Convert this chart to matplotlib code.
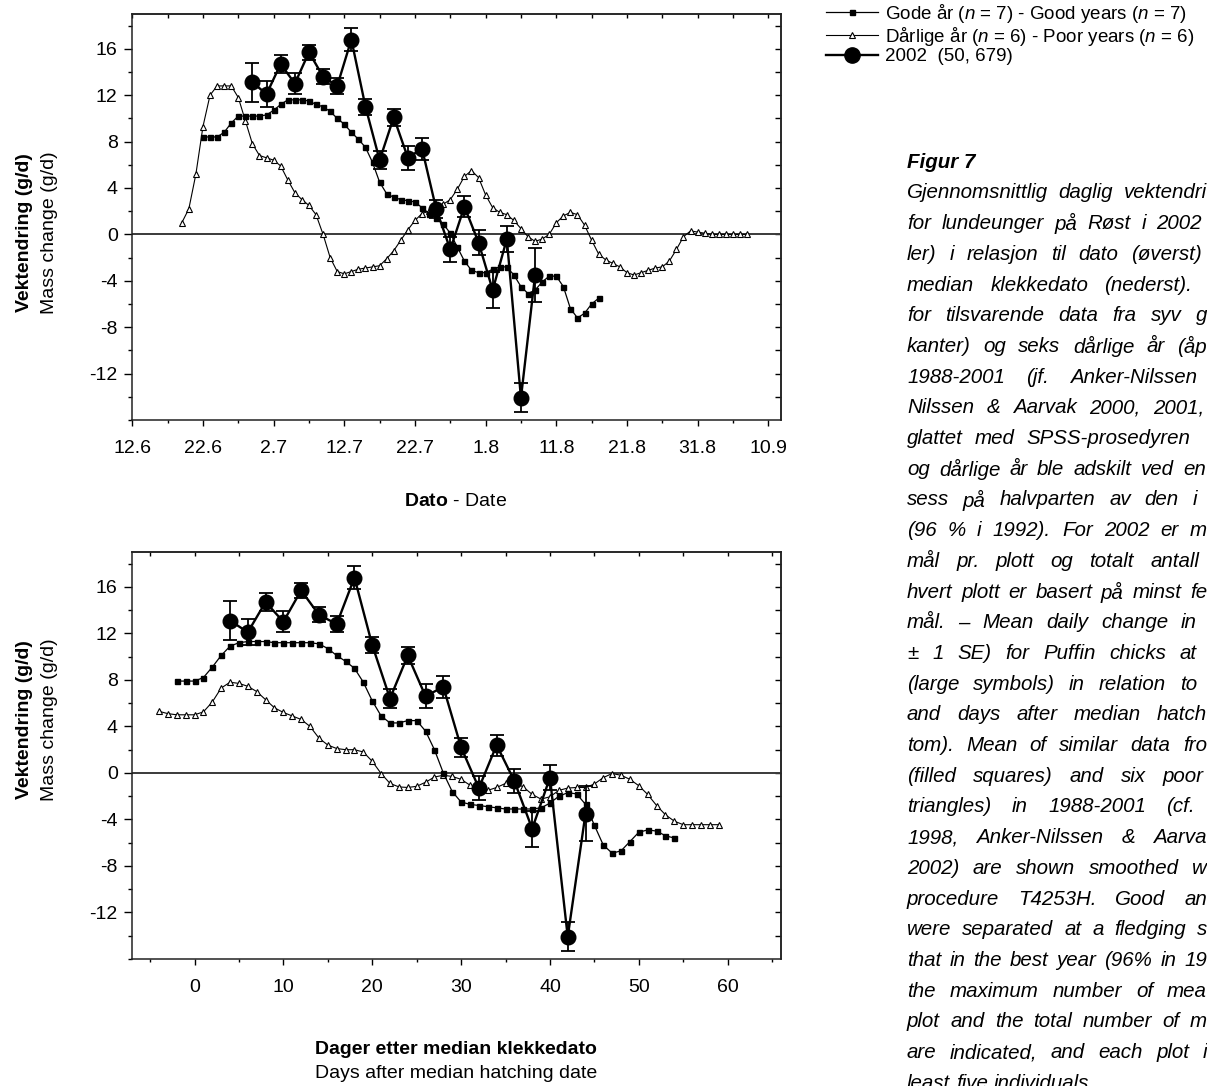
import numpy as np
import matplotlib.pyplot as plt
import matplotlib.font_manager as fm
from matplotlib.lines import Line2D
from matplotlib.ticker import MultipleLocator, FixedLocator, NullFormatter

# ---- data -------------------------------------------------------------
# top panel: x = days after 12 June
date_tick_labels = ['12.6', '22.6', '2.7', '12.7', '22.7', '1.8', '11.8', '21.8', '31.8', '10.9']

good_date_first_day = 10
good_date = [8.4, 8.4, 8.4, 8.8, 9.6, 10.2, 10.2, 10.2, 10.2, 10.3, 10.7, 11.2, 11.6, 11.6, 11.6,
             11.5, 11.2, 11.0, 10.6, 10.0, 9.5, 8.8, 8.2, 7.5, 6.2, 4.5, 3.5, 3.2, 3.0, 2.9, 2.8,
             2.3, 1.8, 1.4, 0.9, 0.1, -1.1, -2.3, -3.1, -3.3, -3.3, -3.0, -2.8, -2.8, -3.5, -4.5,
             -5.1, -4.8, -4.1, -3.6, -3.6, -4.5, -6.4, -7.2, -6.8, -6.0, -5.5]

poor_date_first_day = 7
poor_date = [1.0, 2.2, 5.2, 9.3, 12.0, 12.8, 12.8, 12.8, 11.8, 9.8,
             7.8, 6.8, 6.6, 6.4, 5.9, 4.7, 3.6, 3.0, 2.5, 1.7,
             0.0, -2.0, -3.2, -3.4, -3.2, -3.0, -2.9, -2.8, -2.7, -2.1,
             -1.4, -0.5, 0.4, 1.2, 1.8, 2.0, 2.2, 2.6, 3.0, 3.9,
             5.0, 5.5, 4.9, 3.4, 2.3, 1.9, 1.7, 1.2, 0.5, -0.2,
             -0.6, -0.4, 0.0, 1.0, 1.6, 1.9, 1.7, 0.8, -0.5, -1.7,
             -2.2, -2.5, -2.8, -3.3, -3.5, -3.3, -3.1, -2.9, -2.8, -2.3,
             -1.3, -0.2, 0.3, 0.2, 0.1, 0.0, 0.0, 0.0, 0.0, 0.0,
             0.0]

# bottom panel: x = days after median hatching date
good_hatch_first_day = -2
good_hatch = [7.9, 7.9, 7.9, 8.2, 9.1, 10.1, 10.9, 11.2, 11.3, 11.3, 11.3, 11.2, 11.2, 11.2, 11.2,
              11.2, 11.1, 10.7, 10.1, 9.6, 9.0, 7.8, 6.2, 4.9, 4.3, 4.3, 4.5, 4.5, 3.6, 2.0, 0.0,
              -1.6, -2.5, -2.7, -2.8, -2.9, -3.0, -3.1, -3.1, -3.1, -3.1, -3.0, -2.6, -2.0, -1.7,
              -1.8, -2.7, -4.5, -6.2, -6.9, -6.7, -5.9, -5.1, -4.9, -5.0, -5.4, -5.6]

poor_hatch_first_day = -4
poor_hatch = [5.3, 5.1, 5.0, 5.0, 5.0, 5.25, 6.1, 7.3, 7.8, 7.7, 7.45, 7.0, 6.3, 5.6, 5.2, 4.9,
              4.6, 4.0, 3.0, 2.4, 2.1, 2.0, 2.0, 1.8, 1.0, -0.05, -0.9, -1.2, -1.25, -1.15, -0.8,
              -0.35, -0.2, -0.3, -0.55, -1.05, -1.5, -1.5, -1.25, -0.9, -0.85, -1.2, -1.85, -2.25,
              -2.05, -1.5, -1.3, -1.25, -1.25, -0.95, -0.4, -0.05, -0.2, -0.55, -1.1, -1.85, -2.8,
              -3.6, -4.15, -4.45, -4.45, -4.45, -4.45, -4.45]

# 2002 (every second day)
day_2002_date = [17, 19, 21, 23, 25, 27, 29, 31, 33, 35, 37, 39, 41, 43, 45, 47, 49, 51, 53, 55, 57]
day_2002_hatch = [4, 6, 8, 10, 12, 14, 16, 18, 20, 22, 24, 26, 28, 30, 32, 34, 36, 38, 40, 42, 44]
mass_2002 = [13.1, 12.1, 14.7, 13.0, 15.7, 13.6, 12.8, 16.8, 11.0, 6.4, 10.1, 6.6, 7.4, 2.2,
             -1.3, 2.4, -0.7, -4.8, -0.4, -14.1, -3.5]
se_2002 = [1.7, 1.1, 0.8, 0.9, 0.65, 0.65, 0.7, 1.0, 0.7, 0.8, 0.75, 1.05, 0.95, 0.8,
           1.05, 0.9, 1.05, 1.55, 1.1, 1.25, 2.35]

legend_labels = ['Gode år ($n$ = 7) - Good years ($n$ = 7)',
                 'Dårlige år ($n$ = 6) - Poor years ($n$ = 6)',
                 '2002  (50, 679)']

# caption, as far as it is visible before the page edge
caption_title = 'Figur 7'
caption_lines = [
    'Gjennomsnittlig daglig vektendri',
    'for lundeunger på Røst i 2002',
    'ler) i relasjon til dato (øverst)',
    'median klekkedato (nederst).',
    'for tilsvarende data fra syv g',
    'kanter) og seks dårlige år (åp',
    '1988-2001 (jf. Anker-Nilssen',
    'Nilssen & Aarvak 2000, 2001,',
    'glattet med SPSS-prosedyren',
    'og dårlige år ble adskilt ved en',
    'sess på halvparten av den i',
    '(96 % i 1992). For 2002 er m',
    'mål pr. plott og totalt antall',
    'hvert plott er basert på minst fe',
    'mål. – Mean daily change in',
    '± 1 SE) for Puffin chicks at',
    '(large symbols) in relation to',
    'and days after median hatch',
    'tom). Mean of similar data fro',
    '(filled squares) and six poor',
    'triangles) in 1988-2001 (cf.',
    '1998, Anker-Nilssen & Aarva',
    '2002) are shown smoothed w',
    'procedure T4253H. Good an',
    'were separated at a fledging s',
    'that in the best year (96% in 19',
    'the maximum number of mea',
    'plot and the total number of m',
    'are indicated, and each plot i',
    'least five individuals.',
]
# where each justified line's visible text stops (pixels); None = not justified
caption_right_px = [1207, 1202, 1202, 1192, 1207, 1207, 1197, 1204, 1190, 1206, 1197, 1207,
                    1199, 1207, 1197, 1197, 1197, 1207, 1207, 1204, 1195, 1207, 1207, 1207,
                    1207, 1207, 1207, 1207, 1207, None]

# ---- fonts ------------------------------------------------------------
plt.rcParams['font.family'] = ['Liberation Sans', 'DejaVu Sans']
plt.rcParams['axes.unicode_minus'] = False
plt.rcParams['mathtext.fontset'] = 'custom'
plt.rcParams['mathtext.rm'] = 'Liberation Sans'
plt.rcParams['mathtext.it'] = 'Liberation Sans:italic'
plt.rcParams['mathtext.bf'] = 'Liberation Sans:bold'

font_names = {f.name for f in fm.fontManager.ttflist}
if 'Liberation Sans Narrow' in font_names:
    caption_family = ['Liberation Sans Narrow', 'Liberation Sans']
    caption_size = 18
else:
    caption_family = ['Liberation Sans', 'DejaVu Sans']
    caption_size = 14.8

W, H = 1207, 1086
fig = plt.figure(figsize=(W / 100, H / 100), dpi=100)


def px_axes(left, top, right, bottom):
    return fig.add_axes([left / W, 1 - bottom / H, (right - left) / W, (bottom - top) / H])


def style_axes(ax, xlim, top_ticks):
    ax.set_xlim(*xlim)
    ax.set_ylim(-16, 19)
    ax.axhline(0, color='#3a3a3a', lw=1.4, zorder=1)
    ax.xaxis.set_major_locator(MultipleLocator(10))
    ax.xaxis.set_minor_locator(MultipleLocator(5))
    ax.yaxis.set_major_locator(FixedLocator([-12, -8, -4, 0, 4, 8, 12, 16]))
    ax.yaxis.set_minor_locator(MultipleLocator(2))
    ax.tick_params(axis='x', which='major', direction='out', length=4.5, width=1, pad=10, labelsize=14)
    ax.tick_params(axis='x', which='minor', direction='out', length=2.5, width=1)
    ax.tick_params(axis='y', which='major', direction='out', length=5.5, width=1, pad=5, labelsize=14)
    ax.tick_params(axis='y', which='minor', direction='out', length=3, width=1)
    for s in ax.spines.values():
        s.set_linewidth(1.1)
        s.set_color('#222222')
    sx = ax.secondary_xaxis('top')
    sx.xaxis.set_major_locator(FixedLocator(top_ticks))
    sx.xaxis.set_major_formatter(NullFormatter())
    sx.tick_params(direction='in', length=3, width=1)
    sy = ax.secondary_yaxis('right')
    sy.yaxis.set_major_locator(FixedLocator(np.arange(-14, 19, 2)))
    sy.yaxis.set_major_formatter(NullFormatter())
    sy.tick_params(direction='in', length=4.5, width=1)
    for s in list(sx.spines.values()) + list(sy.spines.values()):
        s.set_linewidth(1.1)
        s.set_color('#222222')


def draw_series(ax, good, good_first, poor, poor_first, days_2002):
    xg = np.arange(good_first, good_first + len(good))
    xp = np.arange(poor_first, poor_first + len(poor))
    ax.plot(xg, good, '-', color='black', lw=0.9, marker='s', ms=3.6, zorder=3)
    ax.plot(xp, poor, '-', color='black', lw=0.8, marker='^', ms=4.2, mfc='white',
            mec='black', mew=0.8, zorder=2)
    ax.errorbar(days_2002, mass_2002, yerr=se_2002, fmt='-o', color='black', lw=1.7, ms=10.5,
                elinewidth=1.3, capsize=5, capthick=1.3, zorder=4)


# top panel: by date
ax1 = px_axes(132.3, 14, 781, 420)
style_axes(ax1, (0, 91.8), np.arange(0, 92, 5))
draw_series(ax1, good_date, good_date_first_day, poor_date, poor_date_first_day, day_2002_date)
ax1.set_xticks(np.arange(0, 91, 10))
ax1.set_xticklabels(date_tick_labels)

# bottom panel: by days after median hatching
ax2 = px_axes(132.3, 552, 781, 959)
style_axes(ax2, (-7, 66), np.arange(-5, 66, 5))
draw_series(ax2, good_hatch, good_hatch_first_day, poor_hatch, poor_hatch_first_day, day_2002_hatch)

# axis titles
for yc in (233, 720):
    fig.text(25 / W, 1 - yc / H, 'Vektendring (g/d)', rotation=90, ha='center', va='center',
             fontsize=14, fontweight='bold')
    fig.text(50 / W, 1 - yc / H, 'Mass change (g/d)', rotation=90, ha='center', va='center',
             fontsize=14)
fig.text(456 / W, 1 - 502 / H, r'$\mathbf{Dato}$ - Date', ha='center', va='center', fontsize=14)
fig.text(456 / W, 1 - 1050 / H, 'Dager etter median klekkedato', ha='center', va='center',
         fontsize=14, fontweight='bold')
fig.text(456 / W, 1 - 1073 / H, 'Days after median hatching date', ha='center', va='center',
         fontsize=14)

# legend
handles = [Line2D([], [], color='black', lw=0.9, marker='s', ms=3.6),
           Line2D([], [], color='black', lw=0.8, marker='^', ms=4.2, mfc='white', mec='black', mew=0.8),
           Line2D([], [], color='black', lw=1.7, marker='o', ms=11)]
fig.legend(handles, legend_labels, loc='upper left', bbox_to_anchor=(826 / W, 1 - 2 / H),
           frameon=False, fontsize=13.5, numpoints=1, handlelength=2.75, handletextpad=0.42,
           borderpad=0, borderaxespad=0, labelspacing=0.0)

# caption: justified lines running towards the page edge
fig.text(907 / W, 1 - 163 / H, caption_title, ha='left', va='center', fontsize=caption_size,
         fontweight='bold', style='italic', family=caption_family)
renderer = fig.canvas.get_renderer()
cap_left = 907


def word_width(word):
    t = fig.text(0, 0, word, fontsize=caption_size, style='italic', family=caption_family)
    w = t.get_window_extent(renderer).width
    t.remove()
    return w


space_w = word_width('a b') - word_width('ab')
for i, (line, right) in enumerate(zip(caption_lines, caption_right_px)):
    y = 1 - (193 + i * 30.7) / H
    words = line.split()
    widths = [word_width(w) for w in words]
    gap = space_w
    if right is not None and len(words) > 1:
        free = right - cap_left - sum(widths)
        gap = max(space_w, free / (len(words) - 1))
    x = cap_left
    for word, w in zip(words, widths):
        fig.text(x / W, y, word, ha='left', va='center', fontsize=caption_size,
                 style='italic', family=caption_family)
        x += w + gap

fig.savefig('out.png', dpi=100)
